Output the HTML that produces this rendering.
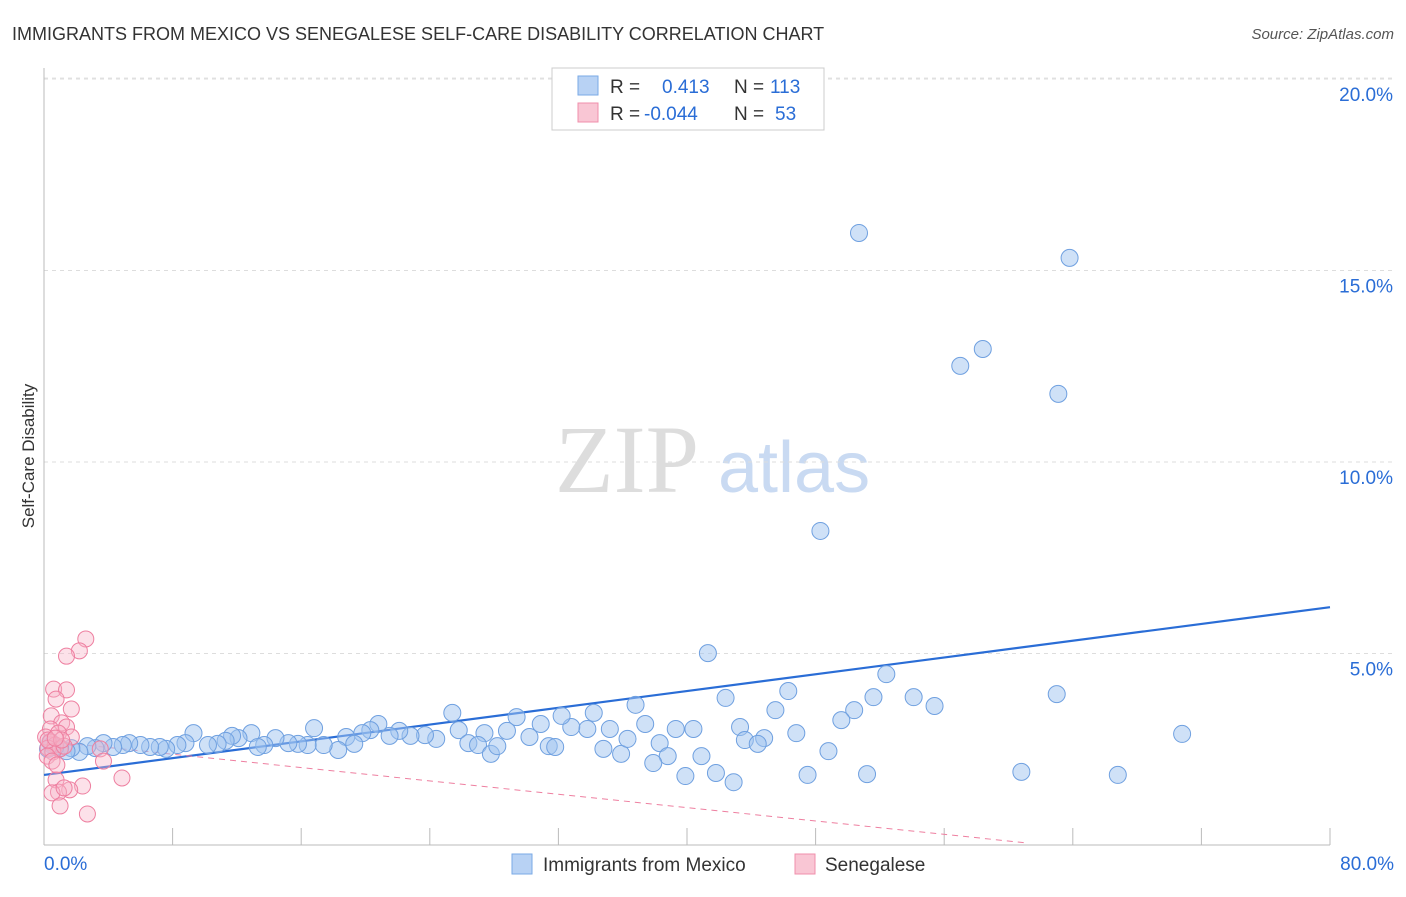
<!DOCTYPE html>
<html><head><meta charset="utf-8"><style>
body{margin:0;background:#fff;width:1406px;height:892px;overflow:hidden;font-family:"Liberation Sans",sans-serif}
svg text{font-family:"Liberation Sans",sans-serif}
</style></head><body>
<svg id="chart" width="1406" height="892" xmlns="http://www.w3.org/2000/svg">
<text x="12" y="40" font-size="18" fill="#333">IMMIGRANTS FROM MEXICO VS SENEGALESE SELF-CARE DISABILITY CORRELATION CHART</text>
<text x="1394" y="39" font-size="15" fill="#555" text-anchor="end" font-style="italic">Source: ZipAtlas.com</text>
<text transform="translate(34,456) rotate(-90)" font-size="17" fill="#333" text-anchor="middle">Self-Care Disability</text>
<g>
<text x="555" y="492" font-size="96" fill="#ddd" style="font-family:'Liberation Serif',serif">ZIP</text>
<text x="718" y="492" font-size="72" fill="#c9daf2">atlas</text>
</g>
<g id="grid"></g><g id="axes"></g><g id="lines"></g><g id="pts"></g>
<g>
<rect x="552" y="68" width="272" height="62" fill="#fff" stroke="#ccc"/>
<rect x="578" y="76" width="20" height="19" fill="#b8d2f4" stroke="#7aaae6"/>
<rect x="578" y="103" width="20" height="19" fill="#f9c6d4" stroke="#f08fab"/>
<text x="610" y="93" font-size="19" fill="#333">R =</text>
<text x="662" y="93" font-size="19" fill="#2a6dd6">0.413</text>
<text x="734" y="93" font-size="19" fill="#333">N =</text>
<text x="770" y="93" font-size="19" fill="#2a6dd6">113</text>
<text x="610" y="120" font-size="19" fill="#333">R =</text>
<text x="644" y="120" font-size="19" fill="#2a6dd6">-0.044</text>
<text x="734" y="120" font-size="19" fill="#333">N =</text>
<text x="775" y="120" font-size="19" fill="#2a6dd6">53</text>
</g>
<g>
<rect x="512" y="854" width="20" height="20" fill="#b8d2f4" stroke="#7aaae6"/>
<text x="543" y="871" font-size="19" fill="#333">Immigrants from Mexico</text>
<rect x="795" y="854" width="20" height="20" fill="#f9c6d4" stroke="#f08fab"/>
<text x="825" y="871" font-size="19" fill="#333">Senegalese</text>
</g>
</svg>
<script>
const blueX=[50.7,63.8,58.4,57.0,63.1,48.3,41.3,52.4,63.0,54.1,46.3,42.4,51.6,55.4,45.5,36.8,50.4,49.6,70.8,46.8,43.3,43.6,44.8,44.4,48.8,39.3,40.4,37.4,35.2,33.8,32.8,34.2,32.2,30.9,29.4,28.8,30.2,31.4,31.8,34.8,35.9,36.3,38.3,38.8,40.9,37.9,41.8,39.9,42.9,47.5,51.2,60.8,66.8,25.4,25.8,27.4,26.4,27.0,27.8,28.2,24.4,23.7,22.8,22.1,21.5,20.8,20.3,19.8,18.8,19.3,18.3,16.8,17.4,16.4,15.8,15.2,14.4,13.7,12.9,13.3,12.1,11.7,11.3,10.8,10.2,9.3,8.8,8.3,7.6,7.2,6.6,6.0,5.3,4.9,4.3,3.7,3.2,2.7,2.2,1.7,1.4,1.0,0.7,0.5,0.4,0.25];
const blueY=[15.98,15.33,12.95,12.51,11.78,8.2,5.01,4.46,3.94,3.86,4.02,3.84,3.86,3.63,3.52,3.66,3.52,3.26,2.90,2.92,3.08,2.74,2.79,2.64,2.45,3.03,3.03,3.16,3.03,3.03,3.08,3.45,3.37,3.16,3.34,2.98,2.82,2.58,2.56,2.51,2.38,2.77,2.66,2.32,2.32,2.14,1.88,1.80,1.64,1.83,1.85,1.91,1.83,3.45,3.00,2.92,2.66,2.61,2.38,2.58,2.77,2.87,2.85,2.98,2.85,3.16,3.00,2.92,2.82,2.64,2.48,3.05,2.61,2.61,2.64,2.66,2.79,2.61,2.92,2.56,2.79,2.85,2.72,2.64,2.61,2.92,2.66,2.61,2.51,2.56,2.56,2.61,2.66,2.61,2.56,2.66,2.53,2.58,2.43,2.53,2.45,2.53,2.56,2.61,2.69,2.51];
const pinkX=[2.6,2.2,1.4,0.6,1.4,0.75,1.7,0.45,1.1,1.4,0.4,0.9,1.7,0.1,0.4,0.7,0.25,1.0,0.55,0.2,1.25,3.5,3.7,4.85,0.75,2.4,1.6,0.9,0.5,1.25,1.0,2.7,0.5,0.8,0.25,1.1,0.7];
const pinkY=[5.38,5.07,4.93,4.07,4.05,3.81,3.55,3.37,3.19,3.08,3.03,2.92,2.82,2.82,2.69,2.61,2.53,2.51,2.43,2.32,2.58,2.51,2.19,1.75,1.70,1.54,1.44,1.38,1.36,1.49,1.02,0.81,2.19,2.09,2.74,2.74,2.79];
const blueTrend=[1.83,6.21];
const pinkTrend=[2.72,-0.0436];
const yTicks=[5,10,15,20];
const xLabels=["0.0%","80.0%"];
const NS="http://www.w3.org/2000/svg";
const sx=v=>44+v*16.075, sy=v=>845-v*38.3;
function mk(t,p,a){const e=document.createElementNS(NS,t);for(const k in a)e.setAttribute(k,a[k]);p.appendChild(e);return e;}
const gridG=document.getElementById('grid'),axesG=document.getElementById('axes'),linesG=document.getElementById('lines'),ptsG=document.getElementById('pts');
yTicks.forEach(t=>{
const l=mk('line',gridG,{x1:44,x2:1394,y1:sy(t),y2:sy(t),stroke:'#ddd','stroke-dasharray':'4,4'});


const tx=mk('text',gridG,{x:1393,y:sy(t)+22,'font-size':19,fill:'#2a6dd6','text-anchor':'end'});
tx.textContent=t.toFixed(1)+'%';


});
const topLine=mk('line',gridG,{x1:44,x2:1394,y1:78,y2:78,stroke:'#e4e4e4','stroke-dasharray':'4,4'});


const ax=mk('line',axesG,{x1:44,x2:1330,y1:845,y2:845,stroke:'#bbb'});


const ay=mk('line',axesG,{x1:44,x2:44,y1:68,y2:845,stroke:'#bbb'});


for(let i=1;i<=10;i++){const tk=mk('line',axesG,{x1:sx(i*8),x2:sx(i*8),y1:828,y2:845,stroke:'#bbb'});

}
[[0,'start',44],[80,'end',1394]].forEach((d,i)=>{const t=mk('text',axesG,{x:d[2],y:870,'font-size':19,fill:'#2a6dd6','text-anchor':d[1]});t.textContent=xLabels[i];

});
const bl=mk('line',linesG,{x1:sx(0),y1:sy(blueTrend[0]),x2:sx(80),y2:sy(blueTrend[1]),stroke:'#2a6dd6','stroke-width':2.2});


const pl=mk('line',linesG,{x1:sx(0),y1:sy(pinkTrend[0]),x2:sx(61),y2:sy(pinkTrend[0]+pinkTrend[1]*61),stroke:'#ee7fa0','stroke-width':1,'stroke-dasharray':'6,5'});


blueX.forEach((x,i)=>{const c=mk('circle',ptsG,{cx:sx(x),cy:sy(blueY[i]),r:8.5,fill:'rgba(160,196,240,0.5)',stroke:'#6fa0e0','stroke-width':1});

});
pinkX.forEach((x,i)=>{const c=mk('circle',ptsG,{cx:sx(x),cy:sy(pinkY[i]),r:8,fill:'rgba(248,180,200,0.4)',stroke:'#ee7fa0','stroke-width':1});

});
</script>
</body></html>
